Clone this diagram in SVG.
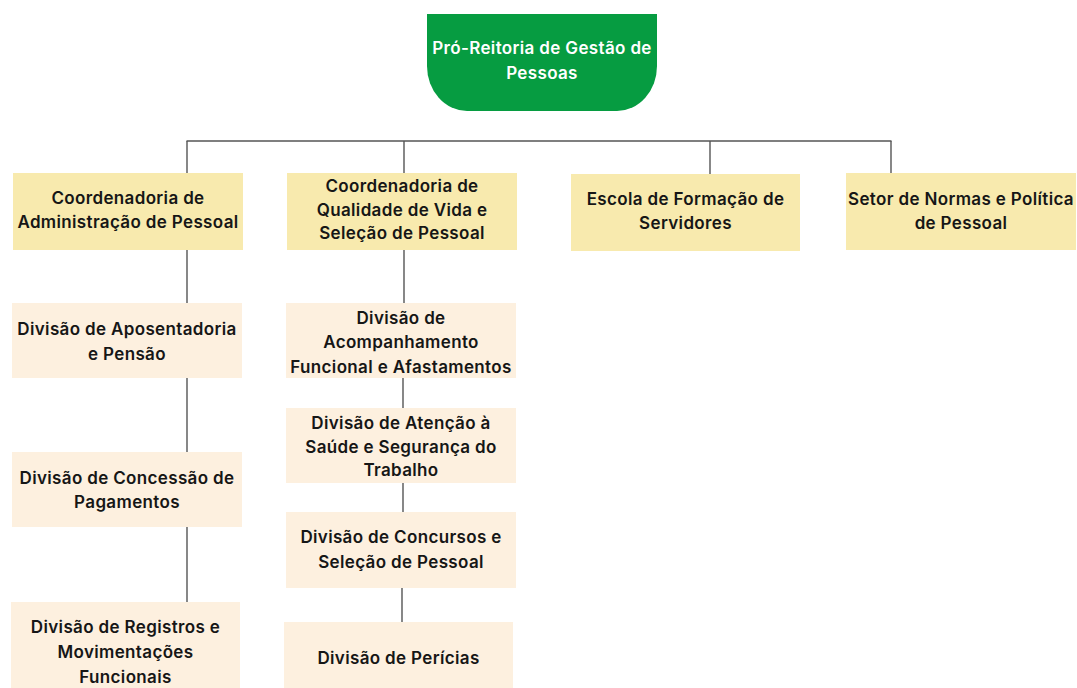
<svg xmlns="http://www.w3.org/2000/svg" width="1077" height="688" viewBox="0 0 1077 688">
<style>
  text { font-family: Inter, "Noto Sans", "Liberation Sans", sans-serif; font-size: 17px; font-weight: 600; letter-spacing: 0.35px; text-anchor: middle; fill: #161616; }
  .head text { fill: #ffffff; }
  .coord { fill: #f8eaae; }
  .div { fill: #fdf0df; }
  .conn line { stroke: #555555; stroke-width: 1.4; fill: none; }
</style>
<rect width="1077" height="688" fill="#ffffff"/>
<g id="connectors" class="conn">
  <line x1="186.5" y1="141" x2="891.5" y2="141"/>
  <line x1="187" y1="141" x2="187" y2="173"/>
  <line x1="404" y1="141" x2="404" y2="173"/>
  <line x1="710" y1="141" x2="710" y2="174"/>
  <line x1="891" y1="141" x2="891" y2="173"/>
  <line x1="187" y1="250" x2="187" y2="303"/>
  <line x1="187" y1="378" x2="187" y2="452"/>
  <line x1="187" y1="527" x2="187" y2="602"/>
  <line x1="404" y1="250" x2="404" y2="303"/>
  <line x1="403" y1="378" x2="403" y2="408"/>
  <line x1="403" y1="483" x2="403" y2="512"/>
  <line x1="402" y1="588" x2="402" y2="622"/>
</g>
<g id="pro-reitoria" class="head">
  <path d="M427 14 H657 V66 A40 45 0 0 1 617 111 H467 A40 45 0 0 1 427 66 Z" fill="#069c41"/>
  <text x="542" y="54">Pró-Reitoria de Gestão de</text>
  <text x="542" y="79">Pessoas</text>
</g>
<g id="coord-admin">
  <rect class="coord" x="13" y="173" width="230" height="77"/>
  <text x="128" y="204">Coordenadoria de</text>
  <text x="128" y="228">Administração de Pessoal</text>
</g>
<g id="coord-qualidade">
  <rect class="coord" x="287" y="173" width="230" height="77"/>
  <text x="402" y="192">Coordenadoria de</text>
  <text x="402" y="216">Qualidade de Vida e</text>
  <text x="402" y="239">Seleção de Pessoal</text>
</g>
<g id="escola">
  <rect class="coord" x="571" y="174" width="229" height="77"/>
  <text x="685.5" y="205">Escola de Formação de</text>
  <text x="685.5" y="229">Servidores</text>
</g>
<g id="setor-normas">
  <rect class="coord" x="846" y="173" width="230" height="77"/>
  <text x="961" y="205">Setor de Normas e Política</text>
  <text x="961" y="229">de Pessoal</text>
</g>
<g id="div-aposentadoria">
  <rect class="div" x="12" y="303" width="230" height="75"/>
  <text x="127" y="335">Divisão de Aposentadoria</text>
  <text x="127" y="360">e Pensão</text>
</g>
<g id="div-concessao">
  <rect class="div" x="12" y="452" width="230" height="75"/>
  <text x="127" y="484">Divisão de Concessão de</text>
  <text x="127" y="508">Pagamentos</text>
</g>
<g id="div-registros">
  <rect class="div" x="11" y="602" width="229" height="86"/>
  <text x="125.5" y="633">Divisão de Registros e</text>
  <text x="125.5" y="658">Movimentações</text>
  <text x="125.5" y="683">Funcionais</text>
</g>
<g id="div-acompanhamento">
  <rect class="div" x="286" y="303" width="230" height="75"/>
  <text x="401" y="324">Divisão de</text>
  <text x="401" y="348">Acompanhamento</text>
  <text x="401" y="373">Funcional e Afastamentos</text>
</g>
<g id="div-atencao">
  <rect class="div" x="286" y="408" width="230" height="75"/>
  <text x="401" y="429">Divisão de Atenção à</text>
  <text x="401" y="453">Saúde e Segurança do</text>
  <text x="401" y="476">Trabalho</text>
</g>
<g id="div-concursos">
  <rect class="div" x="286" y="512" width="230" height="76"/>
  <text x="401" y="543">Divisão de Concursos e</text>
  <text x="401" y="568">Seleção de Pessoal</text>
</g>
<g id="div-pericias">
  <rect class="div" x="284" y="622" width="229" height="66"/>
  <text x="398.5" y="664">Divisão de Perícias</text>
</g>
</svg>
